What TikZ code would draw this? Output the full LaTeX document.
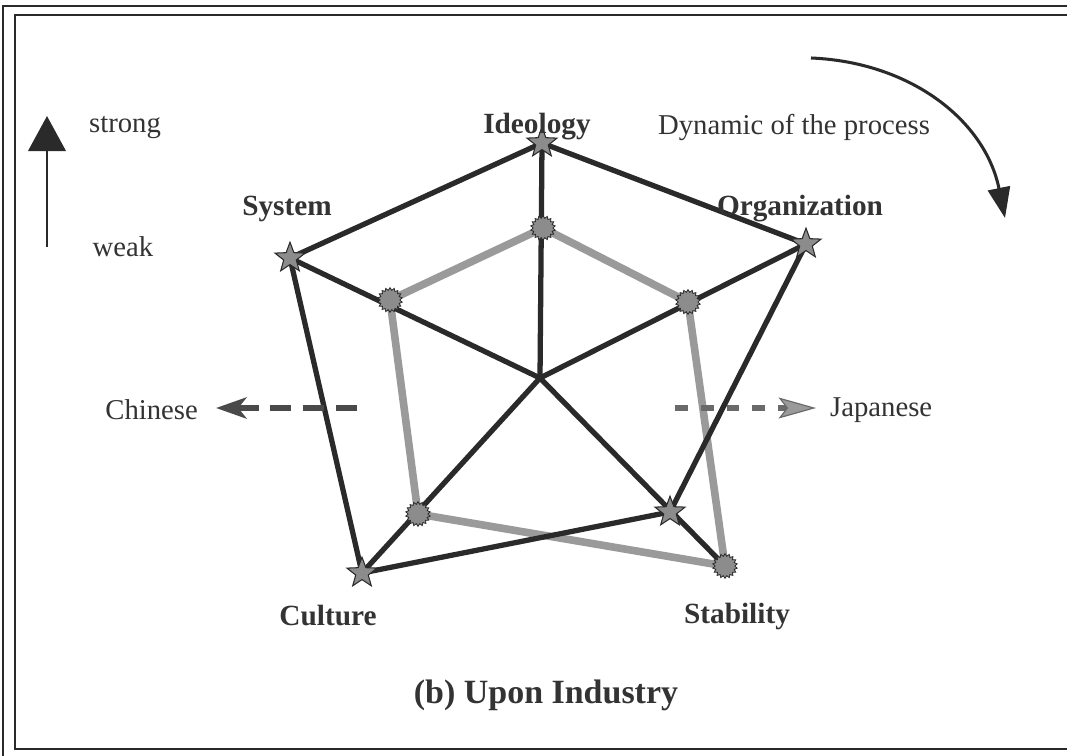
\documentclass[tikz,border=0pt]{standalone}
\usepackage{fontspec}
\setmainfont{Liberation Serif}
\usetikzlibrary{shapes.geometric,arrows.meta}
\definecolor{ink}{HTML}{2A2A2A}
\definecolor{txt}{HTML}{333333}
\definecolor{lowgray}{HTML}{9A9A9A}
\definecolor{markfill}{HTML}{8C8C8C}
\begin{document}
\begin{tikzpicture}[x=0.03cm,y=-0.03cm,
  spoke/.style={draw=ink,line width=4.5pt},
  lowline/.style={draw=lowgray,line width=6.5pt,line join=round},
  starmark/.style={star,star points=5,star point ratio=2.4,minimum size=27pt,inner sep=0pt,
    fill=markfill,draw=ink,line width=0.9pt},
  burst/.style={star,star points=18,star point ratio=1.25,minimum size=21pt,inner sep=0pt,
    fill=markfill,draw=ink,line width=0.7pt},
  axislabel/.style={text=txt,font=\fontsize{25}{28}\selectfont\bfseries},
  plainlabel/.style={text=txt,font=\fontsize{24.5}{28}\selectfont},
]
\useasboundingbox (0,0) rectangle (1067,755);
\fill[white] (0,0) rectangle (1067,755);
% double frame, open to the right
\draw[ink,line width=2.2pt] (3,6) rectangle (1110,765);
\draw[ink,line width=2.2pt] (15,15) rectangle (1110,749);

% strong profile vertices
\coordinate (C) at (540,378);
\coordinate (I1) at (542,143);
\coordinate (O1) at (806,244);
\coordinate (S1) at (670,512);
\coordinate (Cu1) at (362,573);
\coordinate (Sy1) at (290,258);
% weak profile vertices
\coordinate (I2) at (543,228);
\coordinate (O2) at (688,302);
\coordinate (S2) at (725,566);
\coordinate (Cu2) at (418,514);
\coordinate (Sy2) at (390,300);

% weak profile
\draw[lowline] (I2) -- (O2) -- (S2) -- (Cu2) -- (Sy2) -- cycle;
% spokes
\draw[spoke] (C) -- (I1);
\draw[spoke] (C) -- (O1);
\draw[spoke] (C) -- (Sy1);
\draw[spoke] (C) -- (Cu1);
\draw[spoke] (C) -- (S2);
% strong profile
\draw[spoke,line join=round] (I1) -- (O1) -- (S1) -- (Cu1) -- (Sy1) -- cycle;

% markers
\foreach \p in {I2,O2,S2,Cu2,Sy2} \node[burst] (b\p) at (\p) {};
\foreach \p in {I1,O1,S1,Cu1,Sy1} \node[starmark] (s\p) at (\p) {};

% axis labels
\node[axislabel] (lI) at (537,127) {Ideology};
\node[axislabel] (lO) at (800,209) {Organization};
\node[axislabel] (lSy) at (287,209) {System};
\node[axislabel] (lCu) at (328,616) {Culture};
\node[axislabel] (lSt) at (737,616) {Stability};
\node[text=txt,font=\fontsize{29}{33}\selectfont\bfseries] (title) at (546,695) {(b) Upon Industry};

% strength scale
\node[plainlabel] (strong) at (125,128) {strong};
\node[plainlabel] (weak) at (123,247) {weak};
\coordinate (up0) at (47,247);
\coordinate (up1) at (47,116);
\draw[ink,line width=2.4pt,-{Triangle[length=30pt,width=32pt]}] (up0) -- (up1);

% process direction
\node[plainlabel] (dyn) at (794,127) {Dynamic of the process};
\coordinate (d0) at (811,58);
\coordinate (d1) at (1005,218);
\draw[ink,line width=2.6pt,-{Triangle[length=26pt,width=19pt]}] (d0) .. controls (910,62) and (985,120) .. (d1);

% orientation
\node[plainlabel,anchor=east] (chn) at (202,410) {Chinese};
\node[plainlabel,anchor=west] (jpn) at (826,410) {Japanese};
\coordinate (l0) at (357,408);
\coordinate (l1) at (216,408);
\coordinate (r0) at (675,408);
\coordinate (r1) at (816,408);
\draw[draw=ink!85,line width=4.5pt,dash pattern=on 18pt off 10pt,
  -{Stealth[length=26pt,width=18pt,inset=7pt,fill=ink!85]}] (l0) -- (l1);
\draw[draw=ink!70,line width=4.5pt,dash pattern=on 11pt off 11pt,
  -{Stealth[length=32pt,width=18pt,inset=7pt,fill=lowgray,color=ink!70,line width=1pt]}] (r0) -- (r1);
\end{tikzpicture}
\end{document}
